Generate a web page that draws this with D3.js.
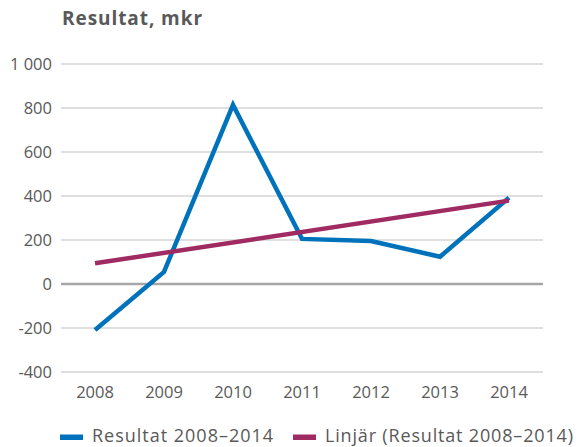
<!DOCTYPE html>
<html><head><meta charset="utf-8">
<script src="https://cdn.jsdelivr.net/npm/d3@7"></script>
<style>body{margin:0;background:#fff}svg{display:block}</style>
</head><body><svg id="c" width="578" height="447"></svg>
<script>
const years = ["2008","2009","2010","2011","2012","2013","2014"];
const resultat = [-209, 55, 814, 205, 195, 124, 392];
const trendYears = ["2008","2014"];
const trendValues = [94, 379];
const yTicks = [-400,-200,0,200,400,600,800,1000];
const title = "Resultat, mkr";
const legendLabels = ["Resultat 2008–2014","Linjär (Resultat 2008–2014)"];

(function(){
const svg = d3.select("#c");
const font = "'Open Sans', sans-serif";
const grey = "#595959";
const pLeft = 61, pRight = 543, pTop = 64, pBottom = 372;
const x = d3.scaleBand().domain(years).range([pLeft - 0.5, pRight + 0.5]);
const y = d3.scaleLinear().domain([-400,1000]).range([pBottom,pTop]);
const cx = d => x(d) + x.bandwidth()/2;

function fit(sel, w){
  sel.each(function(){
    const n = this.textContent.length;
    const L = this.getComputedTextLength();
    const ls = (w - L) / Math.max(1, n - 1);
    d3.select(this).attr("letter-spacing", ls.toFixed(2));
  });
}

const t = svg.append("text").attr("x",62).attr("y",24.5).text(title)
  .attr("font-family",font).attr("font-weight","bold").attr("font-size",19).attr("fill",grey);
fit(t, 140);

const fmt = d => d3.format(",")(d).replace(",", " ").replace("\u2212","-");
const yAxis = d3.axisLeft(y).tickValues(yTicks).tickSize(0).tickPadding(9).tickFormat(fmt);
const gy = svg.append("g").attr("transform",`translate(${pLeft},0)`).call(yAxis);
gy.select(".domain").remove();
gy.selectAll("text").attr("font-family",font).attr("font-size",16.5).attr("fill",grey);

svg.append("g").selectAll("line").data(yTicks).join("line")
  .attr("x1",pLeft).attr("x2",pRight).attr("y1",d=>y(d)).attr("y2",d=>y(d))
  .attr("stroke",d=>d===0?"#a6a6a6":"#bfbfbf").attr("stroke-width",d=>d===0?2.6:1.2);

const xAxis = d3.axisBottom(x).tickSize(0).tickPadding(14);
const gx = svg.append("g").attr("transform",`translate(0,${pBottom})`).call(xAxis);
gx.select(".domain").remove();
gx.selectAll("text").attr("font-family",font).attr("font-size",16.5).attr("fill",grey);

const line = d3.line().x(d=>cx(d[0])).y(d=>y(d[1]));
svg.append("path").datum(years.map((d,i)=>[d,resultat[i]])).attr("d",line)
  .attr("fill","none").attr("stroke","#0072bb").attr("stroke-width",4.5).attr("stroke-linejoin","miter");
svg.append("path").datum(trendYears.map((d,i)=>[d,trendValues[i]])).attr("d",line)
  .attr("fill","none").attr("stroke","#a02b62").attr("stroke-width",4.5);

const lg = svg.append("g");
const items = [
  {c:"#0072bb", x:60, tx:92, w:181, t:legendLabels[0]},
  {c:"#a02b62", x:293, tx:325, w:248, t:legendLabels[1]}
];
items.forEach(it=>{
  lg.append("rect").attr("x",it.x).attr("y",434.5).attr("width",23).attr("height",5.5).attr("fill",it.c);
  const tt = lg.append("text").attr("x",it.tx).attr("y",441.7).text(it.t)
    .attr("font-family",font).attr("font-size",18).attr("fill",grey);
  fit(tt, it.w);
});
})();
</script></body></html>
